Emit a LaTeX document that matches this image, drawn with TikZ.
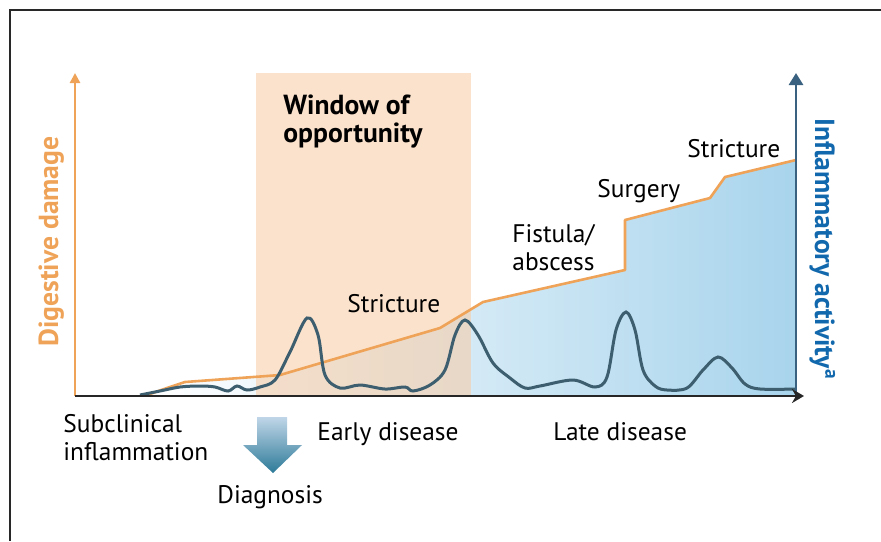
\documentclass[tikz,border=0pt]{standalone}
\usepackage{fontspec}
\setmainfont{PT Sans}
\usetikzlibrary{arrows.meta,positioning}

\definecolor{damage}{RGB}{238,163,88}
\definecolor{inflam}{RGB}{18,104,172}
\definecolor{inflamax}{RGB}{58,98,128}
\definecolor{trace}{RGB}{60,94,110}
\definecolor{window}{RGB}{248,202,162}
\definecolor{paleblue}{RGB}{228,241,250}
\definecolor{deepblue}{RGB}{168,212,236}
\definecolor{frame}{RGB}{40,40,40}
\definecolor{diagtop}{RGB}{192,214,232}
\definecolor{diagbot}{RGB}{45,122,152}

\tikzstyle{lbl} = [font=\fontsize{12.7}{14}\selectfont, inner sep=0pt, align=left, anchor=base west]
\tikzstyle{ttl} = [lbl, font=\fontsize{13.8}{14}\selectfont\bfseries]
\tikzstyle{axis} = [line width=1.4pt]

\begin{document}
\begin{tikzpicture}[x=0.5pt, y=-0.5pt]
\useasboundingbox (0,0) rectangle (881,541);
\draw[frame, line width=0.8pt] (10,541) -- (10,10) -- (881,10);

% named points of the plot
\coordinate (o) at (75,396);
\coordinate (dtop) at (75,73);
\coordinate (ibot) at (796,396);
\coordinate (itop) at (796,73);
\coordinate (tend) at (804,396);

% inflammation area under the damage curve
\shade[left color=white, middle color=paleblue, right color=deepblue]
  (150,396) -- (167,388) -- (185,382) -- (267,376) -- (280,375) -- (440,328)
  -- (483,302) -- (625,270) -- (625,220) -- (710,198) -- (725,177)
  -- (796,160) -- (796,396) -- cycle;

% window of opportunity
\fill[window, opacity=0.55] (256,73) rectangle (471,396);

% digestive damage
\draw[damage, line width=1.3pt, line join=round]
  (147,395) -- (167,388) -- (185,382) -- (267,376) -- (280,375) -- (440,328)
  -- (483,302) -- (625,270) -- (625,220) -- (710,198) -- (725,177) -- (796,160);

% inflammatory activity
\draw[trace, line width=1.5pt] plot[smooth, tension=0.55] coordinates {
  (140,395) (160,391) (180,387) (200,386) (215,387) (228,391) (237,386)
  (247,390) (260,387) (275,380) (290,352) (307,318) (318,335) (325,375)
  (340,388) (360,385) (385,389) (405,387) (413,391) (430,385) (445,370)
  (455,335) (465,320) (478,335) (493,363) (510,378) (525,388) (540,386)
  (573,380) (595,387) (607,377) (616,330) (626,312) (635,330) (643,370)
  (655,386) (667,390) (687,388) (703,370) (718,357) (732,368) (745,384)
  (760,389) (796,389)};

% axes
\draw[axis, damage, -{Triangle[length=5pt, width=5pt]}] (o) -- (dtop);
\draw[axis, inflamax, -{Triangle[length=6pt, width=7pt]}] (ibot) -- (itop);
\draw[axis, black!85, -{Stealth[length=6pt, width=7pt]}] (o) -- (tend);

% diagnosis arrow
\shade[top color=diagtop, bottom color=diagbot]
  (257,417) -- (287,417) -- (287,445) -- (302,445) -- (273,473) -- (243,445)
  -- (257,445) -- cycle;

% labels
\node[ttl, damage, rotate=90] (dmg) at (58,347) {Digestive damage};
\node[ttl, inflam, rotate=-90] (infl) at (815,118) {Inflammatory activity\textsuperscript{a}};
\node[ttl] (win) at (283,142) {Window of\\opportunity};
\node[lbl] (str1) at (347,312) {Stricture};
\node[lbl] (fist) at (512,270) {Fistula/\\abscess};
\node[lbl] (surg) at (597,197) {Surgery};
\node[lbl] (str2) at (687,157) {Stricture};
\node[lbl] (subc) at (63,460) {Subclinical\\inflammation};
\node[lbl] (early) at (317,440) {Early disease};
\node[lbl] (late) at (553,440) {Late disease};
\node[lbl] (diag) at (217,503) {Diagnosis};
\end{tikzpicture}
\end{document}
